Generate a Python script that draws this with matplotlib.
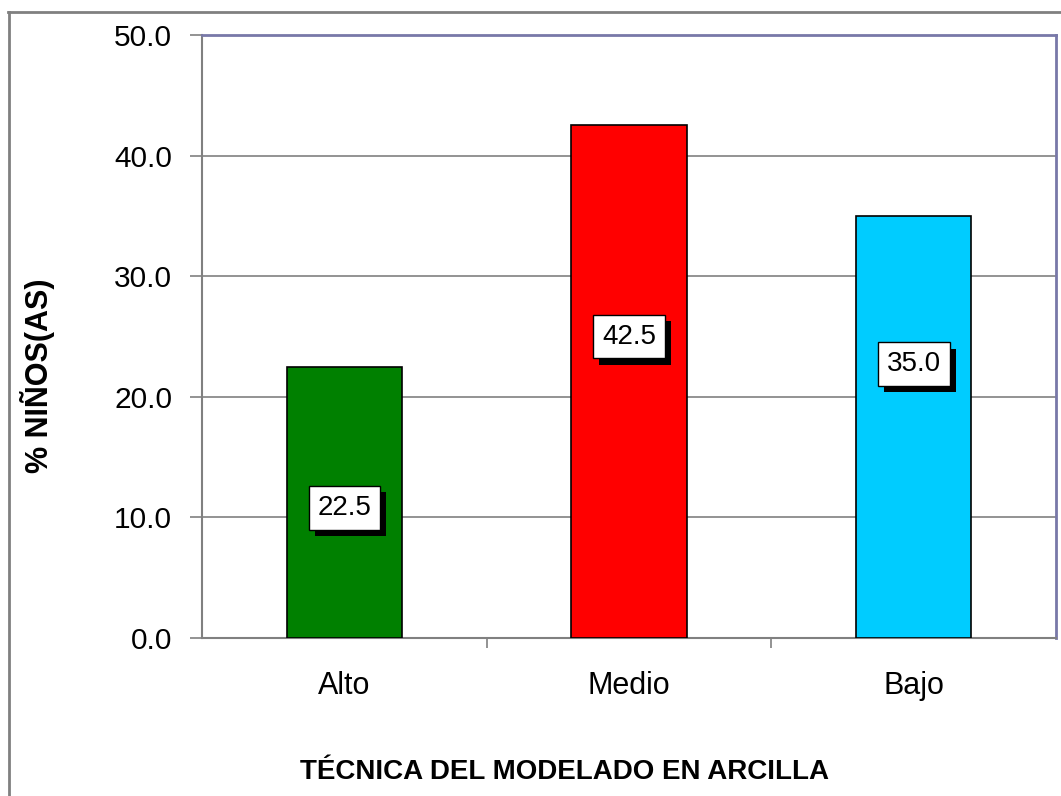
import matplotlib
matplotlib.use("Agg")
import matplotlib.pyplot as plt
import matplotlib.patheffects as pe
from matplotlib.lines import Line2D

categories = ["Alto", "Medio", "Bajo"]
values = [22.5, 42.5, 35.0]
label_y = [10.8, 25.0, 22.7]
colors = ["#008000", "#FF0000", "#00CCFF"]
yticks = [0, 10, 20, 30, 40, 50]

plt.rcParams['font.family'] = ['Liberation Sans', 'DejaVu Sans']

W, H = 1061, 796
fig = plt.figure(figsize=(W / 100, H / 100), dpi=100)
# outer chart border (left and top visible)
fig.lines.append(Line2D([9 / W, 9 / W], [0, 1 - 12 / H], transform=fig.transFigure,
                        color="#808080", linewidth=2))
fig.lines.append(Line2D([8 / W, 1], [1 - 12 / H, 1 - 12 / H], transform=fig.transFigure,
                        color="#808080", linewidth=2))

left, right, top, bottom = 202, 1056, 35, 638
ax = fig.add_axes([left / W, 1 - bottom / H, (right - left) / W, (bottom - top) / H])

x = list(range(len(categories)))
ax.bar(x, values, width=0.405, color=colors, edgecolor="black", linewidth=1.2, zorder=3)
ax.set_xlim(-0.5, 2.5)
ax.set_ylim(0, 50)
ax.set_yticks(yticks)
ax.set_yticklabels([f"{v:.1f}" for v in yticks], fontsize=21.5)
ax.set_xticks([0.5, 1.5])
ax.set_xticklabels([])
ax.tick_params(axis='x', length=7.5, color="#808080", direction='out', width=1.2)
ax.tick_params(axis='y', length=8.5, color="#808080", direction='out', width=1.2, pad=13)
for i, c in enumerate(categories):
    ax.text(i, -3.95, c, ha='center', va='center', fontsize=22)
ax.grid(axis='y', color="#808080", linewidth=1.2, zorder=0)
ax.set_axisbelow(True)
for s in ['left', 'bottom']:
    ax.spines[s].set_color("#808080")
    ax.spines[s].set_linewidth(1.5)
for s in ['top', 'right']:
    ax.spines[s].set_color("#7878A8")
    ax.spines[s].set_linewidth(2)

fig.text(37.5 / W, 1 - 376 / H, "% NIÑOS(AS)", rotation=90, ha='center', va='center',
         fontsize=22, fontweight='bold')
fig.text(565 / W, 1 - 772 / H, "TÉCNICA DEL MODELADO EN ARCILLA",
         ha='center', va='center', fontsize=20, fontweight='bold')

for i, (v, ly) in enumerate(zip(values, label_y)):
    t = ax.annotate(f"{v:.1f}", xy=(i, ly), xytext=(0, 0), textcoords='offset points',
                    ha='center', va='center', fontsize=20, zorder=5,
                    bbox=dict(boxstyle='square,pad=0.32', facecolor='white', edgecolor='black',
                              linewidth=1))
    t.get_bbox_patch().set_path_effects([
        pe.SimplePatchShadow(offset=(4.5, -4.5), shadow_rgbFace='black', alpha=1.0),
        pe.Normal()])

fig.savefig("out.png", dpi=100)
